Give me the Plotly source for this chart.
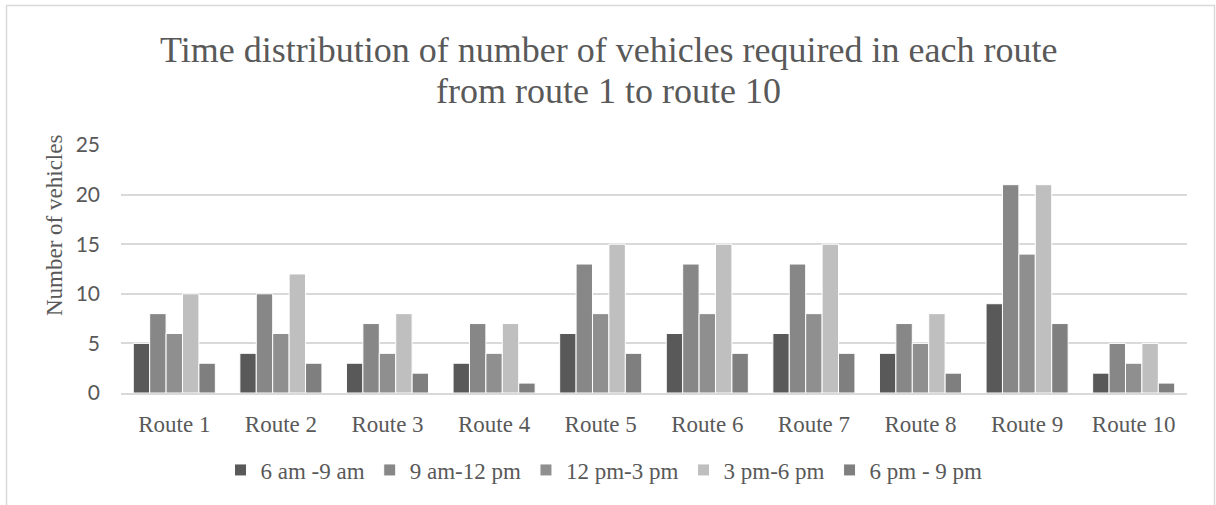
import plotly.graph_objects as go

routes = ["Route 1", "Route 2", "Route 3", "Route 4", "Route 5",
          "Route 6", "Route 7", "Route 8", "Route 9", "Route 10"]
series_names = ["6 am -9 am", "9 am-12 pm", "12 pm-3 pm", "3 pm-6 pm", "6 pm - 9 pm"]
am6_9 = [5, 4, 3, 3, 6, 6, 6, 4, 9, 2]
am9_pm12 = [8, 10, 7, 7, 13, 13, 13, 7, 21, 5]
pm12_3 = [6, 6, 4, 4, 8, 8, 8, 5, 14, 3]
pm3_6 = [10, 12, 8, 7, 15, 15, 15, 8, 21, 5]
pm6_9 = [3, 3, 2, 1, 4, 4, 4, 2, 7, 1]
colors = ["#595959", "#878787", "#8f8f8f", "#bfbfbf", "#7f7f7f"]
y_ticks = [0, 5, 10, 15, 20, 25]

title_line1 = "Time distribution of number of vehicles required in each route"
title_line2 = "from route 1 to route 10"
y_title = "Number of vehicles"

W, H = 1216, 505
L, R, T, B = 121, 29, 145, 112
pw, ph = W - L - R, H - T - B

def px(x):
    return (x - L) / pw

def py(y):
    return (H - B - y) / ph

serif = "Liberation Serif, Times New Roman, serif"
txt = "#595959"

fig = go.Figure()
for name, vals, col in zip(series_names, [am6_9, am9_pm12, pm12_3, pm3_6, pm6_9], colors):
    fig.add_trace(go.Bar(x=routes, y=vals, name=name,
                         marker=dict(color=col, line=dict(color="white", width=1))))

fig.update_layout(
    width=W, height=H,
    margin=dict(l=L, r=R, t=T, b=B, autoexpand=False),
    paper_bgcolor="white", plot_bgcolor="white",
    barmode="group", bargap=0.23, bargroupgap=0,
    font=dict(family=serif, color=txt),
    showlegend=True,
    legend=dict(orientation="h", x=px(604), xanchor="center", y=py(470), yanchor="middle",
                font=dict(family=serif, size=23, color=txt), itemwidth=30,
                bgcolor="rgba(0,0,0,0)"),
    xaxis=dict(showgrid=False, showline=True, linecolor="#d9d9d9", linewidth=1.5,
               ticks="", tickfont=dict(family=serif, size=23, color=txt),
               ticklabelstandoff=10),
    yaxis=dict(range=[0, 25], tickvals=y_ticks, showgrid=True, gridcolor="#d9d9d9",
               gridwidth=1.5, zeroline=False, showline=False, ticks="",
               tickfont=dict(family="Lato, sans-serif", size=21, color=txt),
               ticklabelstandoff=20),
    annotations=[
        dict(text=title_line1, xref="paper", yref="paper", x=px(608), y=py(50),
             xanchor="center", yanchor="middle", showarrow=False,
             font=dict(family=serif, size=36, color=txt)),
        dict(text=title_line2, xref="paper", yref="paper", x=px(608), y=py(91),
             xanchor="center", yanchor="middle", showarrow=False,
             font=dict(family=serif, size=36, color=txt)),
        dict(text=y_title, xref="paper", yref="paper", x=px(54), y=py(226),
             xanchor="center", yanchor="middle", textangle=-90, showarrow=False,
             font=dict(family=serif, size=23, color=txt)),
    ],
    shapes=[dict(type="rect", xref="paper", yref="paper",
                 x0=px(6.5), x1=px(1214.5), y0=py(512), y1=py(5.5),
                 line=dict(color="#d9d9d9", width=1.5), fillcolor="rgba(0,0,0,0)",
                 layer="below")],
)

fig.write_html("out.html",
               config={"displayModeBar": False},
               post_script="document.body.style.margin='0';document.body.style.overflow='hidden';")
